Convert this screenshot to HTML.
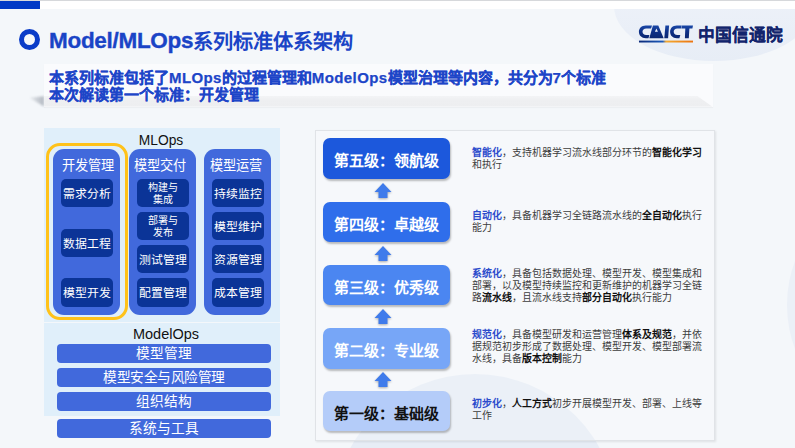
<!DOCTYPE html>
<html lang="zh-CN"><head><meta charset="utf-8">
<style>
*{margin:0;padding:0;box-sizing:border-box}
html,body{width:795px;height:448px;overflow:hidden}
body{position:relative;background:#F4F7FA;font-family:"Liberation Sans",sans-serif}
.abs{position:absolute}
#topline{left:0;top:0;width:795px;height:1px;background:#D6D8DB}
#topstrip{left:0;top:1px;width:795px;height:8px;background:#FFFFFF}
#bluebar{left:0;top:1px;width:39.5px;height:8px;background:#0039C6}
#circ-tr{left:613.7px;top:-49.4px;width:200px;height:110px;border-radius:50%;background:linear-gradient(to bottom,#EEF2F9 30%,#E7EDF6 100%)}
#circ-bot{left:333px;top:374px;width:284px;height:284px;border-radius:50%;background:#E7EDF6}
#circ-r{left:787px;top:180px;width:250px;height:250px;border-radius:50%;background:#EBF0F7}
#ring{left:19px;top:29px;width:21px;height:21px;border-radius:50%;border:5px solid #0A3CC8}
#title{left:49px;top:28px;font-size:21px;font-weight:bold;color:#1A44C6;white-space:nowrap;line-height:26px}
.tl{letter-spacing:-0.3px;font-size:22.5px;-webkit-text-stroke:0.35px #1A44C6}
.tc{font-size:20.2px;position:relative;top:1px}
#logo{left:638px;top:22px}
#sub{left:44px;top:64px;width:669px;height:43px;background:linear-gradient(to bottom,#FAFBFD 0%,#FAFBFD 100%);box-shadow:0 1px 1px rgba(0,0,0,0.03)}
#subband{left:44px;top:96px;width:668px;height:10.5px;background:linear-gradient(to bottom,#F3F4F6,#EEEFF1 40%,#EDEEF0);clip-path:polygon(0 0,97.8% 0,100% 100%,0 100%);filter:blur(0.4px)}
#subshadow{left:28px;top:93px;width:18px;height:15px;filter:blur(1.3px)}
#subshadow div{width:100%;height:100%;background:linear-gradient(to right,rgba(170,176,185,0.1),rgba(170,176,185,0.85) 85%);clip-path:polygon(89% 22%,8% 32%,89% 90%)}
.sl{letter-spacing:0.4px;-webkit-text-stroke:0.25px #1D45C8}
.subt{left:49px;font-size:15px;font-weight:bold;color:#1D45C8;white-space:nowrap;line-height:18px;-webkit-text-stroke:0.2px #1D45C8}
#panel1{left:44px;top:128px;width:236px;height:194px;background:#E0EFFA}
#panel2{left:44px;top:323px;width:236px;height:93px;background:#E0EFFA}
#mlops{left:43px;top:133px;width:236px;text-align:center;font-size:13.8px;color:#111;line-height:16px}
#modelops{left:48px;top:325px;width:236px;text-align:center;font-size:14.5px;color:#111;line-height:18px}
#yellow{left:46px;top:143px;width:82px;height:177px;border:3px solid #FFC21A;border-radius:14px}
.col{top:149px;width:67px;height:166px;background:#4169DC;border-radius:11px}
.colh{position:absolute;left:-2px;top:9px;width:100%;text-align:center;color:#fff;font-size:13.2px;line-height:16px}
.box{position:absolute;left:8px;width:52px;background:#0B3497;border-radius:5px;color:#fff;text-align:center;font-size:11.9px;display:flex;align-items:center;justify-content:center;line-height:13px;padding-top:2px;white-space:nowrap}
.box.sm{font-size:10px;line-height:12px}
.bar{left:57px;width:214px;height:19px;background:#4169DC;border-radius:4px;color:#fff;text-align:center;font-size:13.7px;line-height:19px}
#rpanel{left:315px;top:130px;width:399.5px;height:311px;border:1.5px solid #E0E3E7;box-shadow:0.5px 0.5px 2px rgba(0,0,0,0.09);background:rgba(255,255,255,0.2)}
.lvl{left:322.5px;width:127px;height:40.5px;border-radius:7px;color:#fff;font-weight:bold;font-size:15px;line-height:45px;text-align:center;box-shadow:1px 2px 2px rgba(0,0,0,0.25)}
.arr{left:374px;width:18px;height:15px;overflow:visible;filter:drop-shadow(0.5px 1px 0.8px rgba(0,0,0,0.3))}
.desc{left:472px;width:240px;font-size:9.93px;line-height:12px;color:#3D3D3D;white-space:nowrap}
.desc b{color:#111}
.desc .k{color:#2C4CCC;font-weight:bold}
</style></head><body>
<div class="abs" id="circ-tr"></div>
<div class="abs" id="circ-bot"></div>
<div class="abs" id="circ-r"></div>
<div class="abs" id="topline"></div>
<div class="abs" id="topstrip"></div>
<div class="abs" id="bluebar"></div>
<div class="abs" id="ring"></div>
<div class="abs" id="title"><span class="tl">Model/MLOps</span><span class="tc">系列标准体系架构</span></div>

<svg class="abs" style="left:634px;top:18px" width="160" height="30" viewBox="634 18 160 30">
<defs><linearGradient id="lg" x1="0" y1="0" x2="1" y2="0"><stop offset="0" stop-color="#0C2A78"/><stop offset="0.44" stop-color="#1A5ABD"/><stop offset="0.5" stop-color="#F4AA30"/><stop offset="1" stop-color="#EC7410"/></linearGradient>
<linearGradient id="lf" x1="0" y1="0" x2="0" y2="1"><stop offset="0" stop-color="#1A48A8"/><stop offset="0.5" stop-color="#0D2F86"/><stop offset="1" stop-color="#0A2670"/></linearGradient></defs>
<g fill="url(#lf)" fill-rule="evenodd">
<path d="M652,25.4 L645.8,25.4 C641.6,25.4 638.9,28.2 638.9,31.85 C638.9,35.5 641.6,38.3 645.8,38.3 L648.5,38.3 L649.4,35.1 L646.3,35.1 C643.9,35.1 642.5,33.8 642.5,31.85 C642.5,29.9 643.9,28.5 646.3,28.5 L651.1,28.5 Z"/>
<path d="M649.3,38.3 L652.9,25.4 L658.3,25.4 L663.7,38.3 Z M654.9,31.8 L656.4,28.6 L657.9,31.8 Z"/>
<path d="M665.4,25.4 L669.1,25.4 L668.1,38.3 L664.3,38.3 Z"/>
<path d="M681.7,25.4 L676.8,25.4 C672.6,25.4 670.1,28.2 670.1,31.85 C670.1,35.5 672.6,38.3 676.8,38.3 L679.4,38.3 L680.3,35.1 L677.3,35.1 C675,35.1 673.7,33.8 673.7,31.85 C673.7,29.9 675,28.5 677.3,28.5 L680.9,28.5 Z"/>
<path d="M681.9,25.4 L693,25.4 L692.4,28.5 L689.4,28.5 L688.8,38.3 L684.9,38.3 L685.3,28.5 L681.3,28.5 Z"/>
</g>
<rect x="639" y="40.6" width="54" height="1.9" fill="url(#lg)"/>
<text x="697.5" y="40.9" font-family="Liberation Sans" font-weight="bold" font-size="17.6" fill="#12246C" stroke="#12246C" stroke-width="0.15" textLength="85.5" lengthAdjust="spacingAndGlyphs">中国信通院</text>
</svg>

<div class="abs" id="subshadow"><div></div></div>
<div class="abs" id="sub"></div>
<div class="abs" id="subband"></div>
<div class="abs subt" style="top:69px">本系列标准包括了<span class="sl">MLOps</span>的过程管理和<span class="sl">ModelOps</span>模型治理等内容，共分为<span class="sl">7</span>个标准</div>
<div class="abs subt" style="top:86px">本次解读第一个标准：开发管理</div>

<div class="abs" id="panel1"></div>
<div class="abs" id="panel2"></div>
<div class="abs" id="mlops">MLOps</div>
<div class="abs" id="yellow"></div>
<div class="abs col" style="left:53px">
  <div class="colh" style="left:1px">开发管理</div>
  <div class="box" style="top:30px;height:28px">需求分析</div>
  <div class="box" style="top:80px;height:28px">数据工程</div>
  <div class="box" style="top:129px;height:29px">模型开发</div>
</div>
<div class="abs col" style="left:129px">
  <div class="colh" style="left:-2.5px">模型交付</div>
  <div class="box sm" style="top:30px;height:28px">构建与<br>集成</div>
  <div class="box sm" style="top:63px;height:28px">部署与<br>发布</div>
  <div class="box" style="top:96px;height:28px">测试管理</div>
  <div class="box" style="top:129px;height:29px">配置管理</div>
</div>
<div class="abs col" style="left:204px">
  <div class="colh" style="left:-2px">模型运营</div>
  <div class="box" style="top:30px;height:28px">持续监控</div>
  <div class="box" style="top:63px;height:28px">模型维护</div>
  <div class="box" style="top:96px;height:28px">资源管理</div>
  <div class="box" style="top:129px;height:29px">成本管理</div>
</div>
<div class="abs" id="modelops">ModelOps</div>
<div class="abs bar" style="top:344px">模型管理</div>
<div class="abs bar" style="top:368px;letter-spacing:-0.55px">模型安全与风险管理</div>
<div class="abs bar" style="top:392px">组织结构</div>
<div class="abs bar" style="top:419px">系统与工具</div>

<div class="abs" id="rpanel"></div>
<div class="abs lvl" style="top:138px;background:#1C58DC">第五级：领航级</div>
<div class="abs lvl" style="top:201.5px;background:#2F6EEB">第四级：卓越级</div>
<div class="abs lvl" style="top:264.5px;background:#4B86F1">第三级：优秀级</div>
<div class="abs lvl" style="top:328px;background:#77A6F7">第二级：专业级</div>
<div class="abs lvl" style="top:390.5px;background:#B4CCF9;color:#111">第一级：基础级</div>

<svg class="abs arr" style="top:183px" viewBox="0 0 18 15"><path d="M9 0 L17.5 9 L13.5 9 L13.5 15 L4.5 15 L4.5 9 L0.5 9 Z" fill="#3F7BEB"/></svg>
<svg class="abs arr" style="top:246px" viewBox="0 0 18 15"><path d="M9 0 L17.5 9 L13.5 9 L13.5 15 L4.5 15 L4.5 9 L0.5 9 Z" fill="#3F7BEB"/></svg>
<svg class="abs arr" style="top:309px" viewBox="0 0 18 15"><path d="M9 0 L17.5 9 L13.5 9 L13.5 15 L4.5 15 L4.5 9 L0.5 9 Z" fill="#3F7BEB"/></svg>
<svg class="abs arr" style="top:372px" viewBox="0 0 18 15"><path d="M9 0 L17.5 9 L13.5 9 L13.5 15 L4.5 15 L4.5 9 L0.5 9 Z" fill="#3F7BEB"/></svg>

<div class="abs desc" style="top:147px"><span class="k">智能化</span>，支持机器学习流水线部分环节的<b>智能化学习</b><br>和执行</div>
<div class="abs desc" style="top:210px"><span class="k">自动化</span>，具备机器学习全链路流水线的<b>全自动化</b>执行<br>能力</div>
<div class="abs desc" style="top:268px"><span class="k">系统化</span>，具备包括数据处理、模型开发、模型集成和<br>部署，以及模型持续监控和更新维护的机器学习全链<br>路<b>流水线</b>，且流水线支持<b>部分自动化</b>执行能力</div>
<div class="abs desc" style="top:329px"><span class="k">规范化</span>，具备模型研发和运营管理<b>体系及规范</b>，并依<br>据规范初步形成了数据处理、模型开发、模型部署流<br>水线，具备<b>版本控制</b>能力</div>
<div class="abs desc" style="top:398px"><span class="k">初步化</span>，<b>人工方式</b>初步开展模型开发、部署、上线等<br>工作</div>
</body></html>
